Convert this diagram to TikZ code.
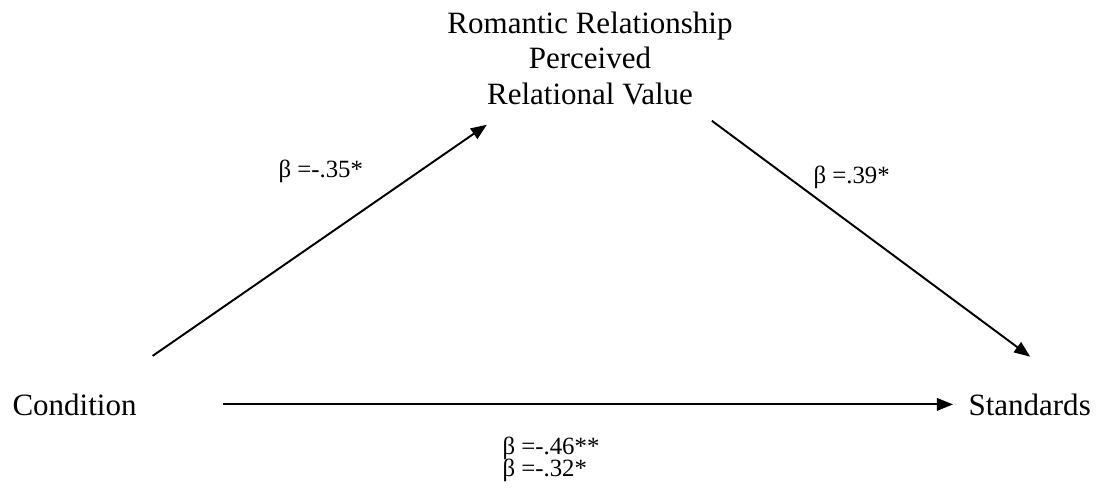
\documentclass[tikz,border=0pt]{standalone}
\usepackage{fontspec}
\setmainfont{Liberation Serif}
\usetikzlibrary{arrows.meta}

\begin{document}
\begin{tikzpicture}[x=0.387pt, y=-0.387pt,
    >={Triangle[length=6.2pt,width=4.8pt]},
    var/.style={inner sep=0pt, font=\fontsize{12pt}{13.9pt}\selectfont},
    coef/.style={inner sep=0pt, anchor=base west, font=\fontsize{9.6pt}{10pt}\selectfont},
    effect/.style={->, line width=0.75pt}]

\useasboundingbox (0,0) rectangle (1106,490);

% Variables
\node[var, anchor=base west] (cond) at (12,415) {Condition};
\node[var, anchor=base west] (stand) at (968,415) {Standards};
\node[var, align=center, anchor=north] (rrv) at (590,11) {Romantic Relationship\\Perceived\\Relational Value};

% Paths
\draw[effect, shorten <=25.2pt, shorten >=12.8pt] (cond.25) -- (rrv.212);
\draw[effect, shorten <=9.7pt, shorten >=23.6pt] (rrv.-25) -- (stand.13);
\draw[effect, shorten <=33.3pt, shorten >=5.8pt] (cond.east) -- (stand.west);

% Coefficients
\node[coef] (coefA) at (278,177) {β =-.35*};
\node[coef] (coefB) at (813,183) {β =.39*};
\node[coef] (coefC) at (502,454) {β =-.46**};
\node[coef] (coefCp) at (502,476) {β =-.32*};

\end{tikzpicture}
\end{document}
